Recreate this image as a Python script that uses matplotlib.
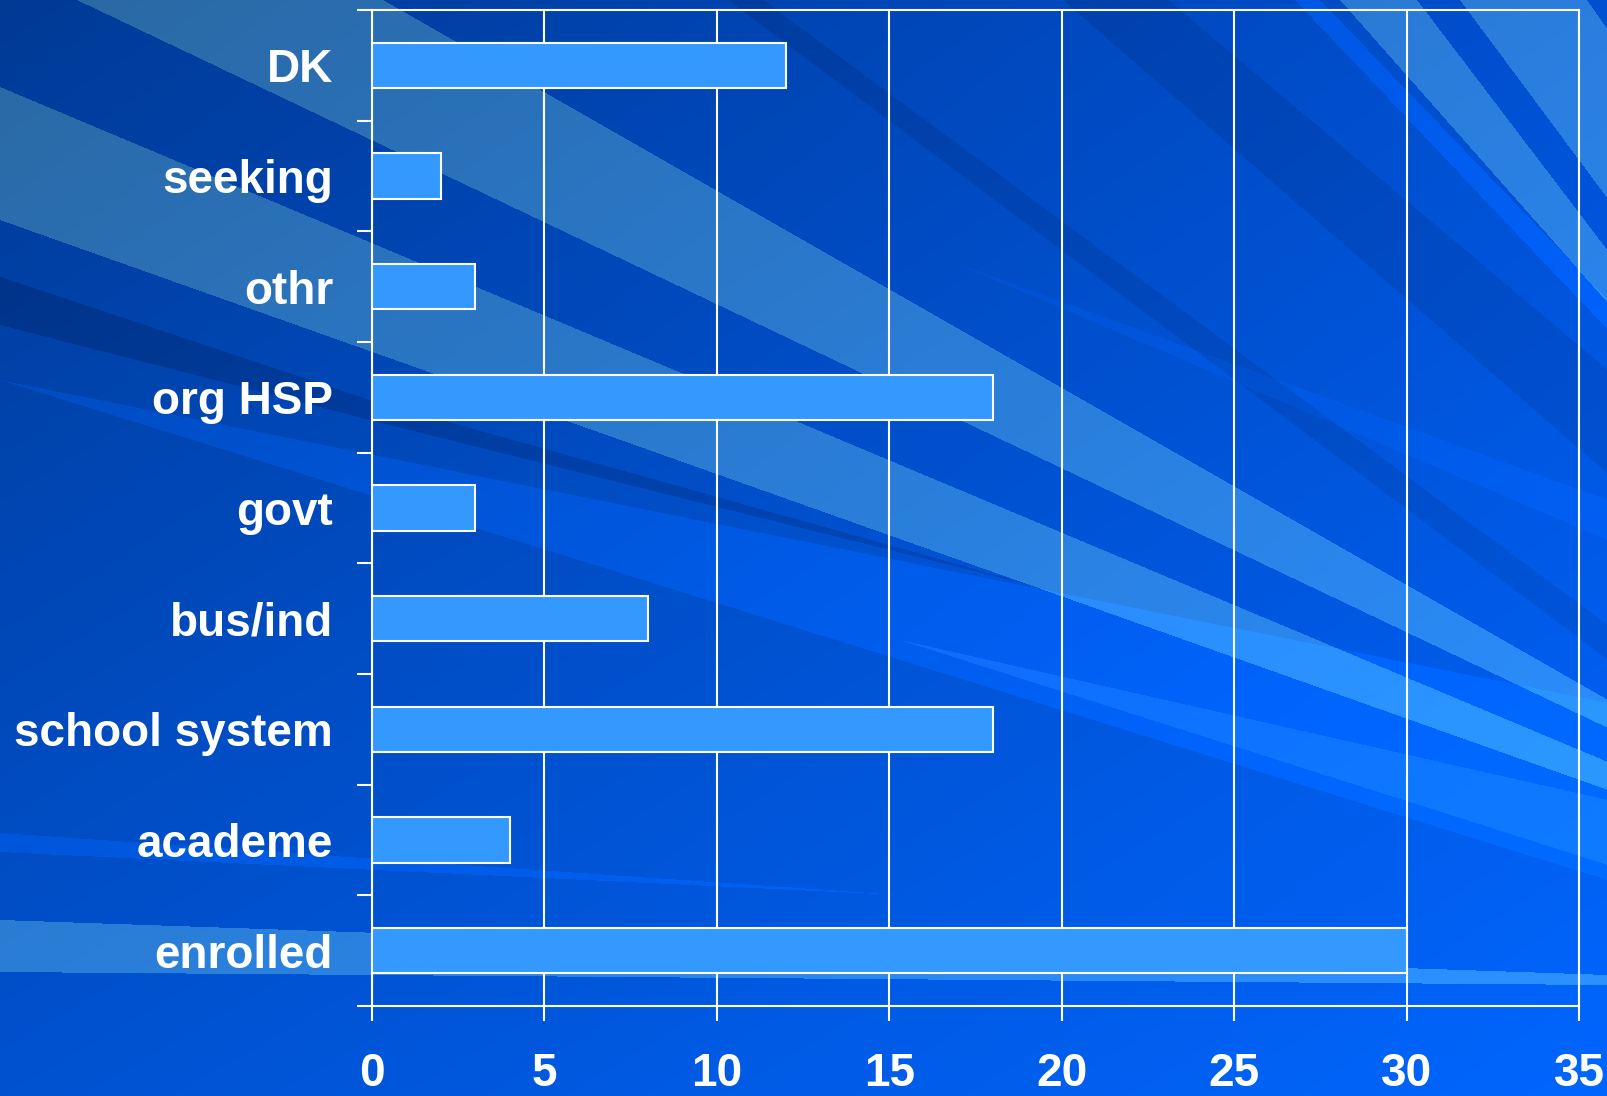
import numpy as np
import matplotlib
matplotlib.use('Agg')
import matplotlib.pyplot as plt
from matplotlib.path import Path

categories = ['DK', 'seeking', 'othr', 'org HSP', 'govt', 'bus/ind',
              'school system', 'academe', 'enrolled']
counts = [12, 2, 3, 18, 3, 8, 18, 4, 30]
x_ticks = [0, 5, 10, 15, 20, 25, 30, 35]

W, H = 1608, 1096

plt.rcParams['font.family'] = ['Liberation Sans', 'DejaVu Sans']
plt.rcParams['font.weight'] = 'bold'

# background: blue gradient with diagonal streaks (pixel coords, y down)
xx, yy = np.meshgrid(np.arange(W) + 0.5, np.arange(H) + 0.5)
u = (xx / W)[..., None]
v = (yy / H)[..., None]
tl = np.array([0, 58, 149]); tr = np.array([0, 80, 210])
bl = np.array([0, 82, 208]); br = np.array([0, 102, 255])
bg = (1 - u) * (1 - v) * tl + u * (1 - v) * tr + (1 - u) * v * bl + u * v * br
pts = np.column_stack([xx.ravel(), yy.ravel()])


def streak(poly, delta):
    mask = Path(poly).contains_points(pts).reshape(H, W)
    bg[mask] += delta


light = np.array([42, 46, 12])
bright = np.array([0, 10, 24])
dark = np.array([0, -12, -26])
soft_dark = np.array([0, -8, -18])

streak([(0, 380), (1608, 703), (1608, 880)], bright)
streak([(900, 640), (1608, 800), (1608, 865)], np.array([14, 16, 10]))
streak([(950, 261), (1608, 500), (1608, 540)], np.array([0, 5, 12]))
streak([(1295, 0), (1320, 0), (1608, 300), (1608, 330)], np.array([0, 12, 28]))
streak([(0, 833), (900, 895), (0, 852)], bright)
streak([(0, 277), (370, 400), (1050, 590), (370, 420), (0, 325)], dark)
streak([(728, 0), (763, 0), (1608, 625), (1608, 660)], soft_dark)
streak([(1063, 0), (1168, 0), (1608, 370), (1608, 474)], soft_dark)
streak([(77, 0), (383, 0), (1608, 700), (1608, 728)], light)
streak([(0, 87), (1608, 762), (1608, 790), (0, 220)], light)
streak([(1340, 0), (1417, 0), (1608, 251), (1608, 303)], light)
streak([(1460, 0), (1587, 0), (1608, 30), (1608, 199)], light)
streak([(0, 920), (1608, 975), (1608, 985), (0, 972)], light)
bg = np.clip(bg, 0, 255).astype(np.uint8)

fig = plt.figure(figsize=(W / 100, H / 100), dpi=100)
fig.figimage(bg, 0, 0, origin='upper', zorder=-1)

ax = fig.add_axes([372 / W, 1 - 1006 / H, (1579 - 372) / W, (1006 - 10) / H])
ax.patch.set_alpha(0)

y_pos = np.arange(len(categories))
ax.barh(y_pos, counts, height=0.41, color='#3399FF', edgecolor='white',
        linewidth=1.5, zorder=3)

ax.set_xlim(0, 35)
ax.set_ylim(len(categories) - 0.5, -0.5)
ax.set_xticks(x_ticks)
ax.set_yticks(np.arange(-0.5, len(categories), 1))
ax.set_yticklabels([])
ax.set_yticks(y_pos, labels=categories, minor=True)

ax.tick_params(axis='x', colors='white', length=10.8, width=1.5, pad=22,
               labelsize=33)
ax.tick_params(axis='y', which='major', colors='white', length=10.8, width=1.5)
ax.tick_params(axis='y', which='minor', length=0, pad=28, labelsize=33,
               labelcolor='white')

ax.set_axisbelow(True)
ax.xaxis.grid(True, color='white', linewidth=1.5)
for s in ax.spines.values():
    s.set_color('white')
    s.set_linewidth(1.5)

fig.savefig('out.png', dpi=100)
